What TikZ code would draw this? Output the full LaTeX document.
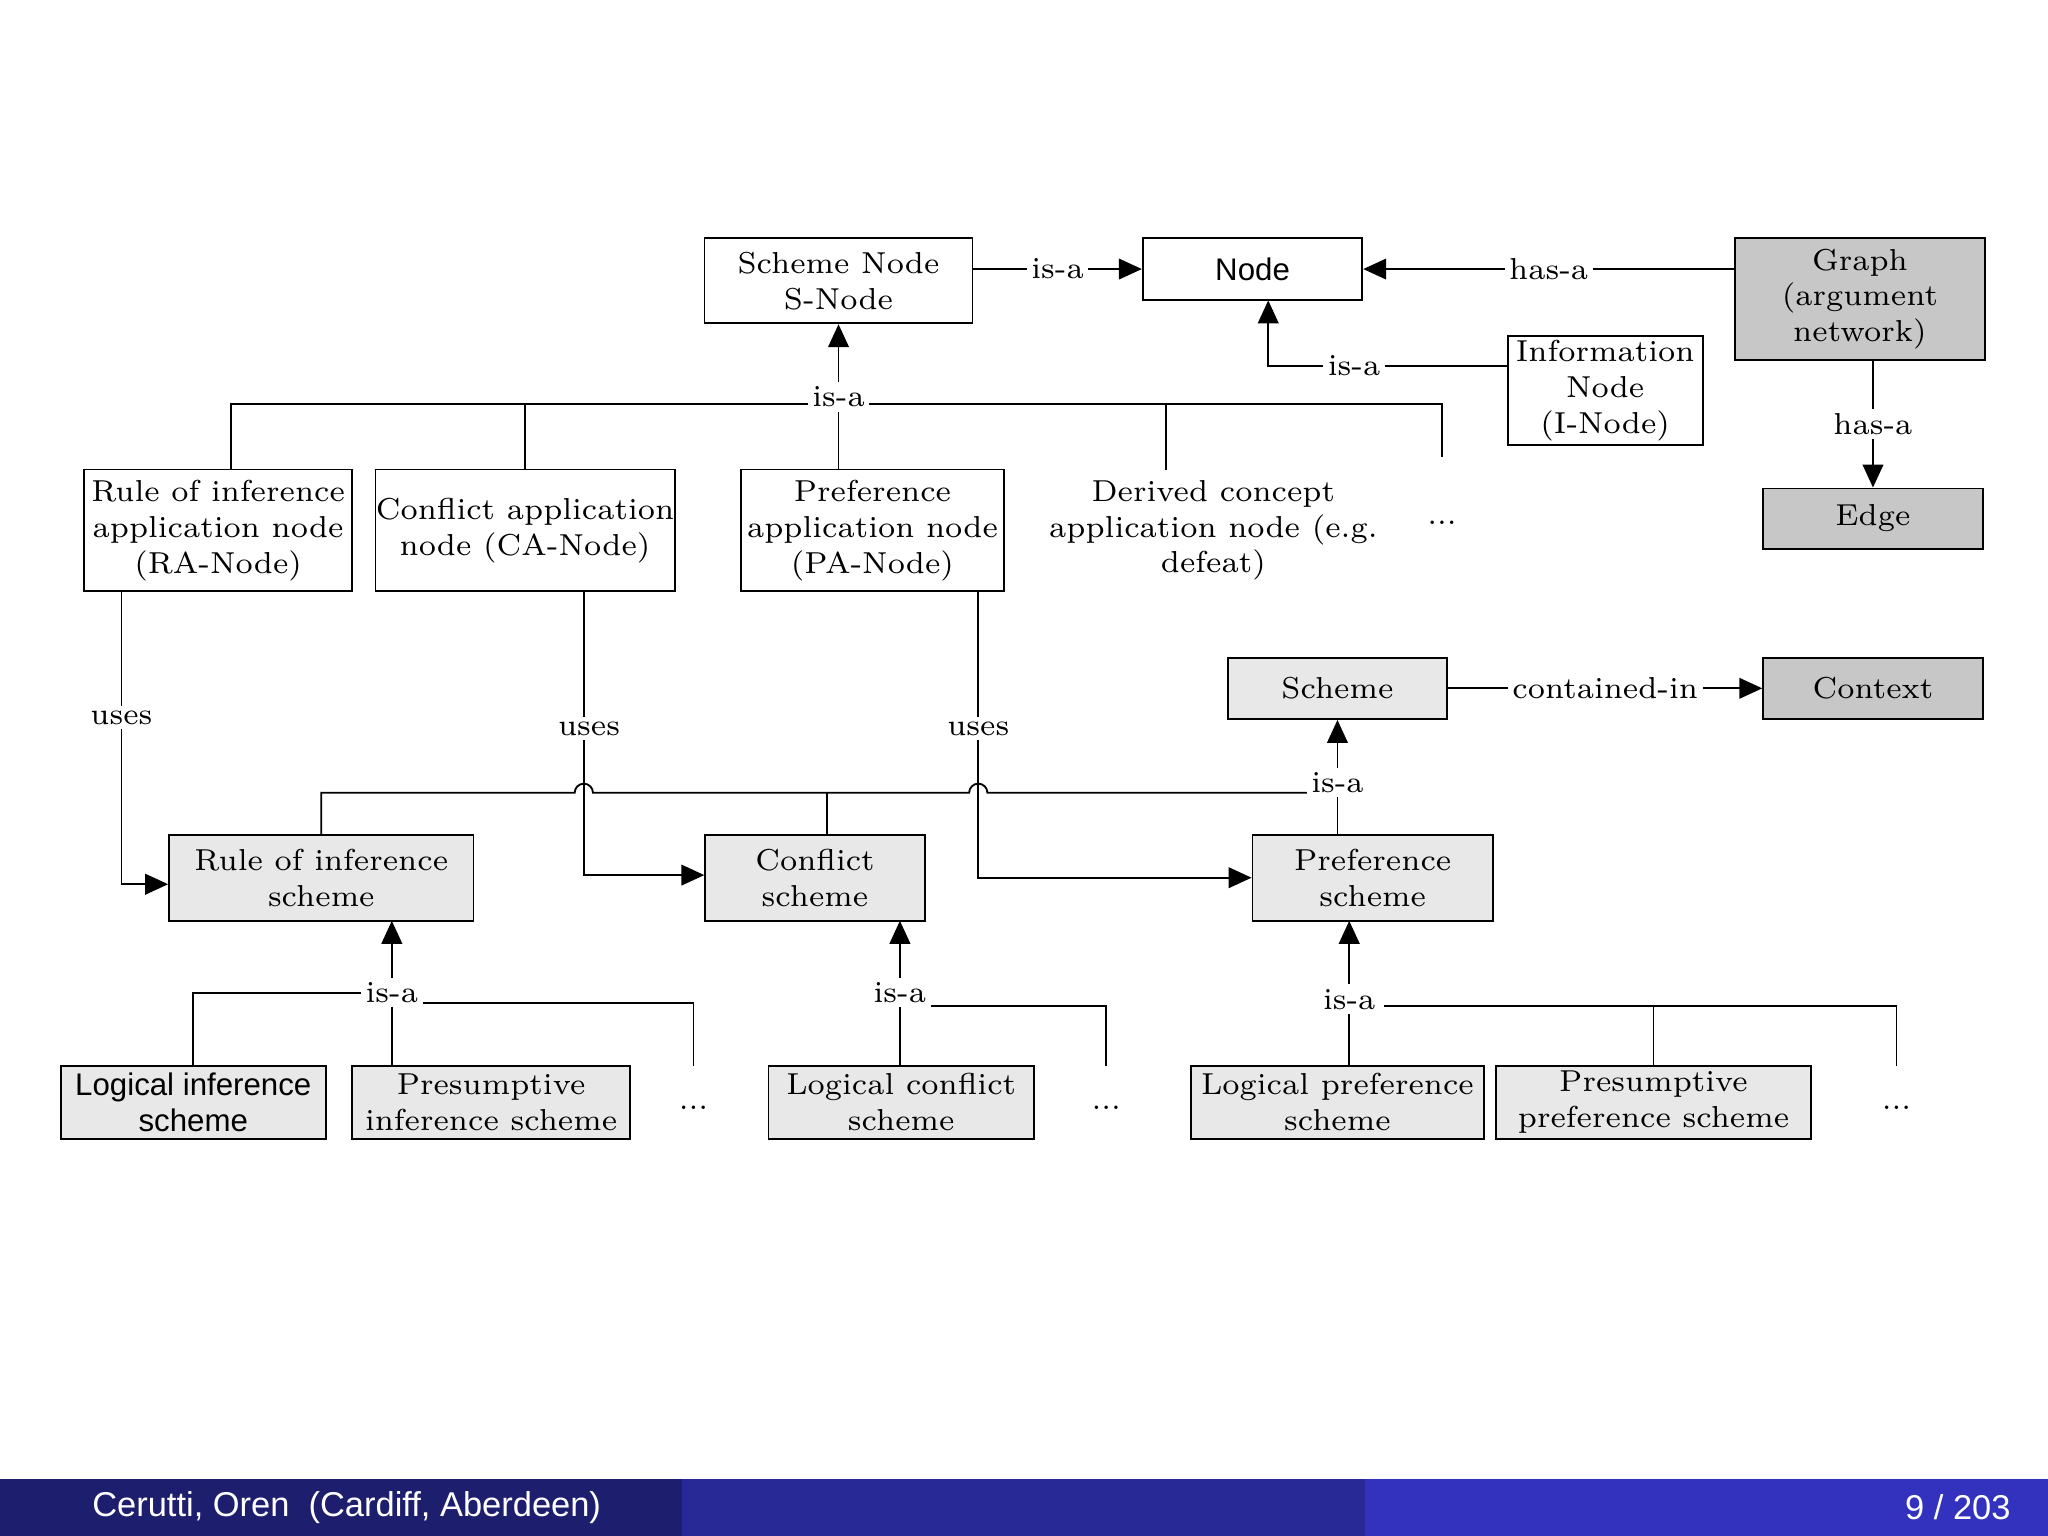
\documentclass[tikz,border=0pt]{standalone}
\usepackage{fontspec}
\setsansfont{Liberation Sans}
\usetikzlibrary{arrows.meta}
\begin{document}
\begin{tikzpicture}[x=0.01cm,y=-0.01cm,
  font=\fontsize{6.6}{7.8}\selectfont,
  box/.style={draw,line width=0.4pt,align=center,inner sep=0pt},
  wb/.style={box,fill=white},
  lg/.style={box,fill=black!9},
  dg/.style={box,fill=black!22},
  sf/.style={font=\sffamily\fontsize{6.8}{7.8}\selectfont},
  lab/.style={fill=white,inner sep=1pt},
  ln/.style={line width=0.4pt},
  arr/.style={ln,-{Triangle[width=4.5pt,length=5pt]}}]
\useasboundingbox (0,0) rectangle (1568,1176);
% nodes
\node[wb,minimum width=2.05cm,minimum height=0.65cm] (sn) at (642,215) {Scheme Node\\S-Node};
\node[wb,sf,minimum width=1.68cm,minimum height=0.47cm] (node) at (959,206) {Node};
\node[dg,minimum width=1.91cm,minimum height=0.93cm] (graph) at (1424,229) {Graph\\(argument\\network)};
\node[wb,minimum width=1.49cm,minimum height=0.84cm] (inode) at (1229,299) {Information\\Node\\(I-Node)};
\node[dg,minimum width=1.68cm,minimum height=0.46cm] (edge) at (1434,397) {Edge};
\node[wb,minimum width=2.05cm,minimum height=0.93cm] (ra) at (167,406) {Rule of inference\\application node\\(RA-Node)};
\node[wb,minimum width=2.29cm,minimum height=0.93cm] (ca) at (402,406) {Conflict application\\node (CA-Node)};
\node[wb,minimum width=2.01cm,minimum height=0.93cm] (pa) at (668,406) {Preference\\application node\\(PA-Node)};
\node[align=center] (dc) at (929,406) {Derived concept\\application node (e.g.\\defeat)};
\node (dots1) at (1104,400) {...};
\node[lg,minimum width=1.68cm,minimum height=0.47cm] (scheme) at (1024,527) {Scheme};
\node[dg,minimum width=1.68cm,minimum height=0.47cm] (ctx) at (1434,527) {Context};
\node[lg,minimum width=2.33cm,minimum height=0.66cm] (rs) at (246,672) {Rule of inference\\scheme};
\node[lg,minimum width=1.68cm,minimum height=0.66cm] (cs) at (624,672) {Conflict\\scheme};
\node[lg,minimum width=1.84cm,minimum height=0.66cm] (ps) at (1051,672) {Preference\\scheme};
\node[lg,sf,minimum width=2.03cm,minimum height=0.56cm] (lis) at (148,844) {Logical inference\\scheme};
\node[lg,minimum width=2.13cm,minimum height=0.56cm] (pis) at (376,844) {Presumptive\\inference scheme};
\node (dots2) at (531,848) {...};
\node[lg,minimum width=2.03cm,minimum height=0.56cm] (lcs) at (690,844) {Logical conflict\\scheme};
\node (dots3) at (847,848) {...};
\node[lg,minimum width=2.24cm,minimum height=0.56cm] (lps) at (1024,844) {Logical preference\\scheme};
\node[lg,minimum width=2.41cm,minimum height=0.56cm] (pps) at (1266,844) {Presumptive\\preference scheme};
\node (dots4) at (1452,848) {...};
% top connectors
\draw[arr] (sn.east|-0,206) -- node[lab]{is-a} (node.west);
\draw[arr] (graph.west|-node.east) -- node[lab,pos=0.5]{has-a} (node.east);
\draw[arr] (inode.west|-0,280) -- node[lab,pos=0.64]{is-a} (971,280) -- (971,230);
\draw[arr] (1434,276) -- node[lab]{has-a} (edge.north);
% is-a tree to scheme node
\draw[ln] (177,360) -- (177,309) -- (1104,309) -- (1104,350);
\draw[ln] (402,360) -- (402,309);
\draw[ln] (642,360) -- (642,309);
\draw[ln] (893,360) -- (893,309);
\draw[arr] (642,309) -- (sn.south);
\node[lab] at (642,304) {is-a};
% uses
\draw[arr] (93,453) -- node[lab,pos=0.43]{uses} (93,677) -- (rs.west|-0,677);
\draw[arr] (447,453) -- (447,670) -- (cs.west|-0,670);
\node[lab] at (451,558) {uses};
\draw[arr] (749,453) -- (749,672) -- (ps.west|-0,672);
\node[lab] at (749,558) {uses};
% is-a tree to scheme
\draw[ln] (246,639) -- (246,607) -- (440,607) arc[start angle=180,end angle=360,radius=7] -- (742,607) arc[start angle=180,end angle=360,radius=7] -- (1024,607);
\draw[ln] (633,639) -- (633,607);
\draw[arr] (1024,639) -- (scheme.south);
\node[lab] at (1024,599) {is-a};
\draw[arr] (scheme.east) -- node[lab]{contained-in} (ctx.west);
% bottom trees
\draw[ln] (148,816) -- (148,760) -- (300,760);
\draw[ln] (300,768) -- (531,768) -- (531,816);
\draw[arr] (300,816) -- (300,705);
\node[lab] at (300,760) {is-a};
\draw[ln] (689,770) -- (847,770) -- (847,816);
\draw[arr] (689,816) -- (689,705);
\node[lab] at (689,760) {is-a};
\draw[ln] (1060,770) -- (1452,770) -- (1452,816);
\draw[ln] (1266,770) -- (1266,816);
\draw[arr] (1033,816) -- (1033,705);
\node[lab] at (1033,765) {is-a};
% footer
\fill[fill={rgb,255:red,30;green,30;blue,110}] (0,1132) rectangle (522,1176);
\fill[fill={rgb,255:red,40;green,40;blue,150}] (522,1132) rectangle (1045,1176);
\fill[fill={rgb,255:red,50;green,50;blue,190}] (1045,1132) rectangle (1568,1176);
\node[anchor=west,inner sep=0pt,text=white,font=\sffamily\fontsize{7.5}{8}\selectfont] (ft1) at (70,1154) {Cerutti, Oren\ \ (Cardiff, Aberdeen)};
\node[anchor=east,inner sep=0pt,text=white,font=\sffamily\fontsize{7.5}{8}\selectfont] (ft2) at (1540,1154) {9 / 203};
\end{tikzpicture}
\end{document}
